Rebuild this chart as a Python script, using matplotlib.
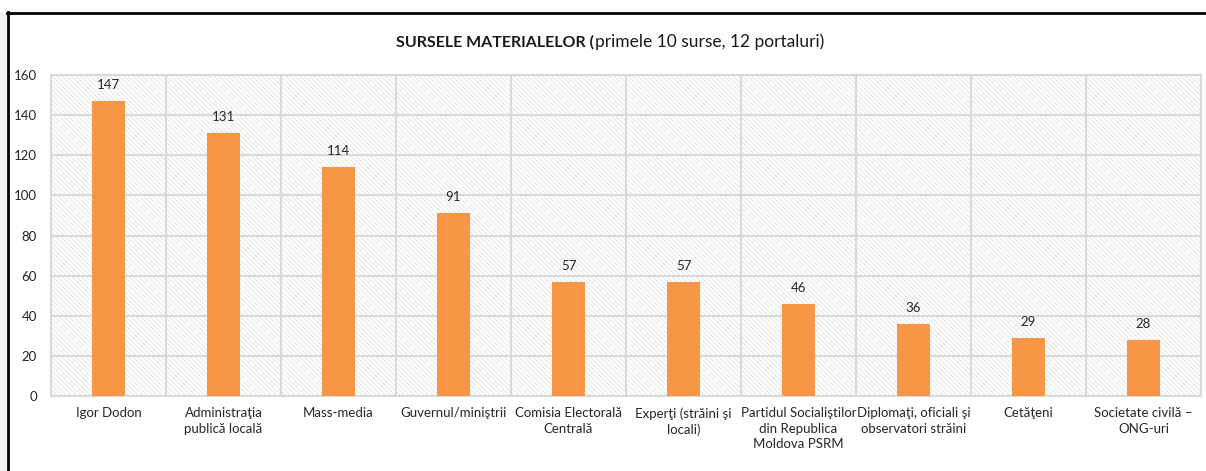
import numpy as np
import matplotlib.pyplot as plt
from matplotlib.patches import Rectangle
from matplotlib.lines import Line2D

plt.rcParams['font.family'] = ['Lato', 'DejaVu Sans']
plt.rcParams['hatch.linewidth'] = 0.5
plt.rcParams['hatch.color'] = '#dcdcdc'

categories = [
    'Igor Dodon',
    'Administraţia\npublică locală',
    'Mass-media',
    'Guvernul/miniştrii',
    'Comisia Electorală\nCentrală',
    'Experţi (străini şi\nlocali)',
    'Partidul Socialiştilor\ndin Republica\nMoldova PSRM',
    'Diplomaţi, oficiali şi\nobservatori străini',
    'Cetăţeni',
    'Societate civilă –\nONG-uri',
]
values = [147, 131, 114, 91, 57, 57, 46, 36, 29, 28]
yticks = [0, 20, 40, 60, 80, 100, 120, 140, 160]

bar_color = '#F79646'
grid_color = '#d9d9d9'
text_color = '#262626'

fig = plt.figure(figsize=(12.06, 4.71), dpi=100, facecolor='white')
ax = fig.add_axes([51 / 1206, 1 - 396 / 471, 1150 / 1206, 321 / 471])

x = np.arange(len(categories))
ax.set_xlim(-0.5, len(categories) - 0.5)
ax.set_ylim(0, 160)

# hatched background
ax.set_facecolor('white')
ax.add_patch(Rectangle((0, 0), 1, 1, transform=ax.transAxes, facecolor='white',
                       edgecolor='#dcdcdc', hatch='\\' * 7, linewidth=0, zorder=0))

for y in yticks:
    ax.axhline(y, color=grid_color, linewidth=1.5, zorder=1)
for b in np.arange(-0.5, len(categories), 1.0):
    ax.axvline(b, color=grid_color, linewidth=1.5, zorder=1)

bars = ax.bar(x, values, width=0.28, color=bar_color, zorder=3)
for xi, v in zip(x, values):
    ax.text(xi, v + 5, str(v), ha='center', va='bottom', fontsize=9.5, color=text_color, zorder=4)

ax.set_yticks(yticks)
ax.set_yticklabels([str(t) for t in yticks], fontsize=9.5, color=text_color)
ax.set_xticks(x)
ax.set_xticklabels(categories, fontsize=9.5, color=text_color, linespacing=1.35, va='top')
ax.tick_params(axis='both', length=0)
ax.tick_params(axis='y', pad=10)
ax.tick_params(axis='x', pad=8)
for s in ax.spines.values():
    s.set_color(grid_color)
    s.set_linewidth(1.5)

# title: bold part + normal part
split = 594 / 1206
ty = 1 - 42 / 471
fig.text(split, ty, 'SURSELE MATERIALELOR (', ha='right', va='center', fontsize=11.5,
         fontweight='bold', color='#1a1a1a')
fig.text(split + 1 / 1206, ty, 'primele 10 surse, 12 portaluri)', ha='left', va='center',
         fontsize=12.5, color='#1a1a1a')

# outer frame like the cropped screenshot
fig.add_artist(Rectangle((0, 0), 7 / 1206, 1 - 12 / 471, transform=fig.transFigure,
                         facecolor='#f0f0f0', edgecolor='none'))
fig.add_artist(Line2D([7.5 / 1206, 7.5 / 1206], [0, 1 - 12 / 471], transform=fig.transFigure,
                      color='black', linewidth=2))
fig.add_artist(Line2D([7 / 1206, 1], [1 - 12.5 / 471, 1 - 12.5 / 471], transform=fig.transFigure,
                      color='black', linewidth=2))

plt.savefig('out.png', dpi=100)
